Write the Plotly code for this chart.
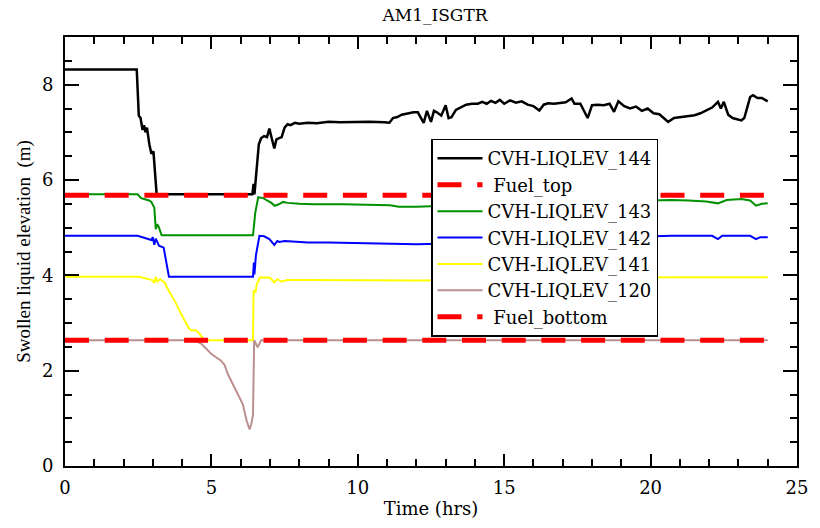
import plotly.graph_objects as go

# ---------------- data ----------------
t_144 = [0, 2.45, 2.52, 2.58, 2.65, 2.70, 2.75, 2.80, 2.88, 2.95, 3.02, 3.08, 3.13,
         6.40, 6.44, 6.47, 6.55, 6.62, 6.70, 6.80, 6.90, 6.98, 7.07, 7.15, 7.22, 7.32,
         7.40, 7.50, 7.60, 7.70, 7.85, 8.0, 8.3, 8.6, 9.0, 9.4, 9.9, 10.4, 10.9, 11.08,
         11.2, 11.35, 11.5, 11.7, 11.9, 12.05, 12.15, 12.25, 12.36, 12.5, 12.6, 12.7,
         12.85, 13.0, 13.1, 13.2, 13.35, 13.5, 13.7, 13.9, 14.1, 14.25, 14.4, 14.55,
         14.7, 14.85, 15.0, 15.2, 15.4, 15.6, 15.8, 16.0, 16.2, 16.35, 16.5, 16.7,
         16.9, 17.1, 17.3, 17.4, 17.6, 17.85, 18.0, 18.2, 18.4, 18.6, 18.75, 18.9,
         19.1, 19.3, 19.5, 19.7, 19.9, 20.1, 20.3, 20.6, 20.8, 21.05, 21.3, 21.5,
         21.7, 21.9, 22.1, 22.3, 22.4, 22.5, 22.65, 22.8, 22.95, 23.1, 23.2, 23.3,
         23.4, 23.5, 23.65, 23.8, 24.0]
v_144 = [8.32, 8.32, 7.35, 7.30, 7.05, 7.15, 7.00, 7.10, 6.75, 6.55, 6.60, 6.10, 5.70,
         5.70, 5.92, 5.70, 6.30, 6.75, 6.88, 6.92, 6.90, 7.08, 6.85, 6.66, 6.85, 6.87,
         6.90, 7.10, 7.17, 7.15, 7.20, 7.18, 7.20, 7.19, 7.22, 7.21, 7.22, 7.22, 7.21, 7.20,
         7.30, 7.32, 7.37, 7.40, 7.42, 7.42, 7.30, 7.20, 7.45, 7.22, 7.45, 7.42,
         7.35, 7.57, 7.30, 7.32, 7.47, 7.52, 7.58, 7.60, 7.60, 7.64, 7.60, 7.66,
         7.62, 7.68, 7.60, 7.67, 7.62, 7.65, 7.58, 7.55, 7.46, 7.58, 7.61, 7.60,
         7.62, 7.63, 7.71, 7.60, 7.60, 7.30, 7.57, 7.58, 7.57, 7.60, 7.43, 7.65,
         7.55, 7.50, 7.54, 7.45, 7.50, 7.40, 7.38, 7.22, 7.30, 7.32, 7.35, 7.36,
         7.40, 7.46, 7.52, 7.64, 7.50, 7.64, 7.37, 7.30, 7.28, 7.25, 7.30, 7.55,
         7.74, 7.78, 7.72, 7.72, 7.65]

t_143 = [0, 2.48, 2.60, 2.75, 2.87, 2.95, 3.05, 3.10, 3.15, 3.20, 3.30, 6.42, 6.46,
         6.50, 6.60, 6.77, 6.90, 7.05, 7.16, 7.30, 7.45, 7.60, 8.0, 8.5, 9.5, 10.5,
         11.1, 11.4, 12.0, 13, 14, 15, 16, 17, 18, 19, 20, 20.7, 21.3, 21.9, 22.3,
         22.6, 23.1, 23.4, 23.6, 23.8, 24.0]
v_143 = [5.70, 5.70, 5.62, 5.60, 5.57, 5.54, 5.42, 4.97, 5.07, 5.02, 4.84, 4.84, 5.12,
         5.32, 5.64, 5.62, 5.57, 5.52, 5.46, 5.49, 5.54, 5.52, 5.50, 5.49, 5.49, 5.48,
         5.47, 5.44, 5.44, 5.46, 5.49, 5.49, 5.50, 5.52, 5.54, 5.55, 5.57, 5.58, 5.57,
         5.55, 5.51, 5.58, 5.60, 5.57, 5.46, 5.50, 5.51]

t_142 = [0, 2.48, 2.70, 2.87, 2.95, 3.00, 3.05, 3.10, 3.21, 3.37, 3.55, 6.42, 6.45,
         6.47, 6.52, 6.64, 6.80, 6.98, 7.08, 7.15, 7.25, 7.32, 7.5, 8.3, 9, 10, 11, 12,
         14, 16, 18, 20, 20.7, 22.1, 22.3, 22.45, 23.4, 23.6, 23.75, 24.0]
v_142 = [4.83, 4.83, 4.79, 4.76, 4.74, 4.80, 4.64, 4.77, 4.62, 4.58, 3.97, 3.97, 4.27,
         4.02, 4.42, 4.83, 4.82, 4.76, 4.70, 4.64, 4.72, 4.70, 4.72, 4.69, 4.69, 4.68,
         4.67, 4.65, 4.68, 4.72, 4.78, 4.82, 4.83, 4.83, 4.76, 4.83, 4.83, 4.76, 4.80, 4.80]

t_141 = [0, 2.53, 2.98, 3.05, 3.10, 3.15, 3.25, 3.40, 3.55, 3.74, 3.90, 4.08, 4.20,
         4.30, 4.47, 4.60, 4.75, 6.42, 6.44, 6.50, 6.55, 6.66, 6.80, 7.0, 7.15, 7.25,
         7.4, 7.6, 8.3, 10, 12, 14, 16, 18, 20, 20.7, 24.0]
v_141 = [3.97, 3.97, 3.90, 3.84, 3.97, 3.87, 3.92, 3.85, 3.67, 3.47, 3.27, 3.05, 2.92,
         2.85, 2.85, 2.77, 2.64, 2.64, 3.68, 3.64, 3.81, 3.96, 3.96, 3.95, 3.85, 3.92,
         3.87, 3.90, 3.90, 3.89, 3.89, 3.90, 3.92, 3.94, 3.96, 3.96, 3.96]

t_120 = [0, 4.40, 4.65, 5.00, 5.33, 5.45, 5.56, 5.79, 6.07, 6.20, 6.30, 6.36, 6.42,
         6.46, 6.58, 6.70, 24.0]
v_120 = [2.64, 2.64, 2.57, 2.35, 2.21, 2.12, 1.93, 1.65, 1.30, 0.96, 0.77, 0.87, 1.07,
         2.64, 2.49, 2.64, 2.64]

t_fuel = [0, 24.0]
fuel_top = [5.68, 5.68]
fuel_bottom = [2.64, 2.64]

x_ticks = [0, 5, 10, 15, 20, 25]
y_ticks = [0, 2, 4, 6, 8]

names = ["CVH-LIQLEV_144", "\u00a0Fuel_top", "CVH-LIQLEV_143", "CVH-LIQLEV_142",
         "CVH-LIQLEV_141", "CVH-LIQLEV_120", "\u00a0Fuel_bottom"]

# ---------------- figure ----------------
SERIF = "DejaVu Serif"
fig = go.Figure()

def add_line(t, v, name, color, width, rank, dash=None, group=None):
    fig.add_trace(go.Scatter(
        x=t, y=v, mode="lines", name=name, legendrank=rank,
        legendgroup=group or name,
        line=dict(color=color, width=width, dash=dash)))

add_line(t_144, v_144, names[0], "#000000", 2.5, 1)
add_line(t_143, v_143, names[2], "#009000", 2, 3)
add_line(t_142, v_142, names[3], "#0000ff", 2, 4)
add_line(t_141, v_141, names[4], "#ffff00", 2, 5)
add_line(t_120, v_120, names[5], "#bc8f8f", 2, 6)
add_line(t_fuel, fuel_top, names[1], "#ff0000", 5, 2, dash="24px,15.7px")
add_line(t_fuel, fuel_bottom, names[6], "#ff0000", 5, 7, dash="24px,15.7px")

axis_common = dict(
    showline=True, linecolor="black", linewidth=2, mirror="allticks",
    ticks="inside", tickcolor="black", tickwidth=1.5,
    showgrid=False, zeroline=False,
    tickfont=dict(family=SERIF, size=18, color="black"),
)

fig.update_xaxes(
    range=[0, 25], tickvals=x_ticks, ticklen=12, ticklabelstandoff=4,
    minor=dict(dtick=1, ticks="inside", ticklen=7, tickcolor="black", tickwidth=1.5),
    title=dict(text="Time (hrs)", font=dict(family=SERIF, size=18, color="black"),
               standoff=6),
    **axis_common)
fig.update_yaxes(
    range=[0, 9], tickvals=y_ticks, ticklen=14, ticklabelstandoff=6,
    minor=dict(dtick=0.5, ticks="inside", ticklen=7, tickcolor="black", tickwidth=1.5),
    title=dict(text="Swollen liquid elevation \u00a0(m)",
               font=dict(family="Liberation Serif", size=19, color="black"),
               standoff=6),
    **axis_common)

fig.update_layout(
    width=820, height=528,
    margin=dict(l=65, r=15, t=37, b=58),
    paper_bgcolor="white", plot_bgcolor="white",
    title=dict(text="AM1_ISGTR", x=(65 + 805) / 2 / 820, xanchor="center",
               y=1 - 15 / 528, yanchor="middle", yref="container",
               font=dict(family=SERIF, size=17, color="black")),
    legend=dict(
        x=0.5, y=0.763, xanchor="left", yanchor="top",
        bgcolor="white", bordercolor="black", borderwidth=1.5,
        font=dict(family=SERIF, size=18, color="black"),
        itemwidth=45, tracegroupgap=3, traceorder="normal",
    ),
    showlegend=True,
)

fig.write_html("out.html")
